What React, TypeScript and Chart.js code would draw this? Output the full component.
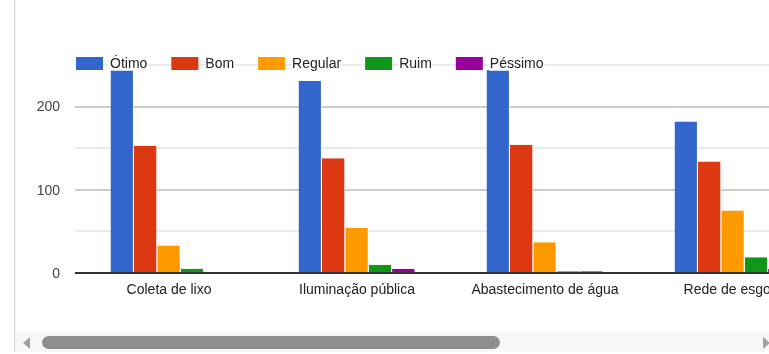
import React, { useEffect, useRef } from "react";
import { Chart, registerables } from "chart.js";

Chart.register(...registerables);

const categories = ["Coleta de lixo", "Iluminação pública", "Abastecimento de água", "Rede de esgoto"];
const seriesNames = ["Ótimo", "Bom", "Regular", "Ruim", "Péssimo"];
const seriesColors = ["#3366cc", "#dc3912", "#ff9900", "#109618", "#990099"];
const otimo = [244, 231, 244, 182];
const bom = [153, 138, 154, 134];
const regular = [33, 54, 37, 75];
const ruim = [5, 10, 2, 19];
const pessimo = [0, 5, 2, 5];
const yTicks = [0, 50, 100, 150, 200, 250];

const FONT = "Arial, 'Liberation Sans', sans-serif";
const FS = 14;

const overlayPlugin = {
  id: "overlay",
  afterDatasetsDraw(chart: any) {
    const { ctx, chartArea, scales } = chart;
    const y0 = scales.y.getPixelForValue(0);
    ctx.save();
    // zero baseline on top of bars
    ctx.fillStyle = "#333333";
    ctx.fillRect(chartArea.left, Math.round(y0) - 1, chartArea.right - chartArea.left, 2);
    // legend
    ctx.font = `${FS}px ${FONT}`;
    ctx.textBaseline = "middle";
    let x = chartArea.left + 1;
    const boxTop = chartArea.top - 8;
    const midY = boxTop + 6.5;
    chart.data.datasets.forEach((ds: any) => {
      ctx.fillStyle = ds.backgroundColor;
      ctx.fillRect(x, boxTop, 27, 13);
      const tx = x + 34;
      const w = ctx.measureText(ds.label).width;
      ctx.fillStyle = "rgba(255,255,255,0.75)";
      ctx.fillRect(tx - 1, boxTop, w + 2, 14);
      ctx.fillStyle = "#222222";
      ctx.fillText(ds.label, tx, midY + 0.5);
      x = tx + w + 24;
    });
    ctx.restore();
  },
};

export default function App() {
  const ref = useRef<HTMLCanvasElement | null>(null);
  useEffect(() => {
    if (!ref.current) return;
    const values = [otimo, bom, regular, ruim, pessimo];
    const chart = new Chart(ref.current, {
      type: "bar",
      data: {
        labels: categories,
        datasets: seriesNames.map((name, i) => ({
          label: name,
          data: values[i],
          backgroundColor: seriesColors[i],
          borderColor: "#ffffff",
          borderWidth: { top: 0, left: 0, bottom: 0, right: 1 },
          borderSkipped: "bottom",
          categoryPercentage: 0.622,
          barPercentage: 1,
        })),
      },
      options: {
        responsive: false,
        animation: false,
        devicePixelRatio: 1,
        layout: { padding: { top: 65, right: 18, left: 0, bottom: 0 } },
        plugins: { legend: { display: false }, tooltip: { enabled: false } },
        scales: {
          x: {
            grid: { display: false, drawTicks: false },
            border: { display: false },
            ticks: {
              color: "#222222",
              font: { family: FONT, size: FS },
              padding: 9,
              maxRotation: 0,
              autoSkip: false,
            },
            afterFit: (s: any) => {
              s.height = 59;
            },
          },
          y: {
            min: 0,
            max: 250,
            afterBuildTicks: (s: any) => {
              s.ticks = yTicks.map((v) => ({ value: v }));
            },
            grid: {
              drawTicks: false,
              color: (c: any) =>
                c.tick && c.tick.value === 0
                  ? "rgba(0,0,0,0)"
                  : c.tick && c.tick.value % 100 === 0
                  ? "#cccccc"
                  : "#ebebeb",
              lineWidth: 2,
            },
            border: { display: false },
            ticks: {
              color: "#444444",
              font: { family: FONT, size: FS },
              padding: 15,
              labelOffset: 1,
              callback: (v: any) => (Number(v) % 100 === 0 ? String(v) : ""),
            },
            afterFit: (s: any) => {
              s.width = 60;
            },
          },
        },
      },
      plugins: [overlayPlugin],
    });
    return () => chart.destroy();
  }, []);

  return (
    <div
      style={{
        position: "fixed",
        left: 0,
        top: 0,
        width: 769,
        height: 354,
        overflow: "hidden",
        background: "#ffffff",
      }}
    >
      <div style={{ position: "absolute", left: 14, top: 0, width: 1, height: 352, background: "#dddddd" }} />
      <div style={{ position: "absolute", left: 15, top: 0, width: 1, height: 352, background: "#f0f0f0" }} />
      <canvas
        ref={ref}
        width={830}
        height={332}
        style={{ position: "absolute", left: 15, top: 0, width: 830, height: 332 }}
      />
      <div
        style={{
          position: "absolute",
          left: 16,
          top: 332,
          width: 753,
          height: 20,
          background: "#f7f7f7",
        }}
      />
      <div
        style={{
          position: "absolute",
          left: 23,
          top: 337,
          width: 0,
          height: 0,
          borderTop: "6px solid transparent",
          borderBottom: "6px solid transparent",
          borderRight: "7px solid #a0a0a0",
        }}
      />
      <div
        style={{
          position: "absolute",
          left: 42,
          top: 336,
          width: 458,
          height: 13,
          borderRadius: 7,
          background: "#8e8e8e",
        }}
      />
      <div
        style={{
          position: "absolute",
          left: 763,
          top: 337,
          width: 0,
          height: 0,
          borderTop: "6px solid transparent",
          borderBottom: "6px solid transparent",
          borderLeft: "7px solid #a0a0a0",
        }}
      />
    </div>
  );
}
